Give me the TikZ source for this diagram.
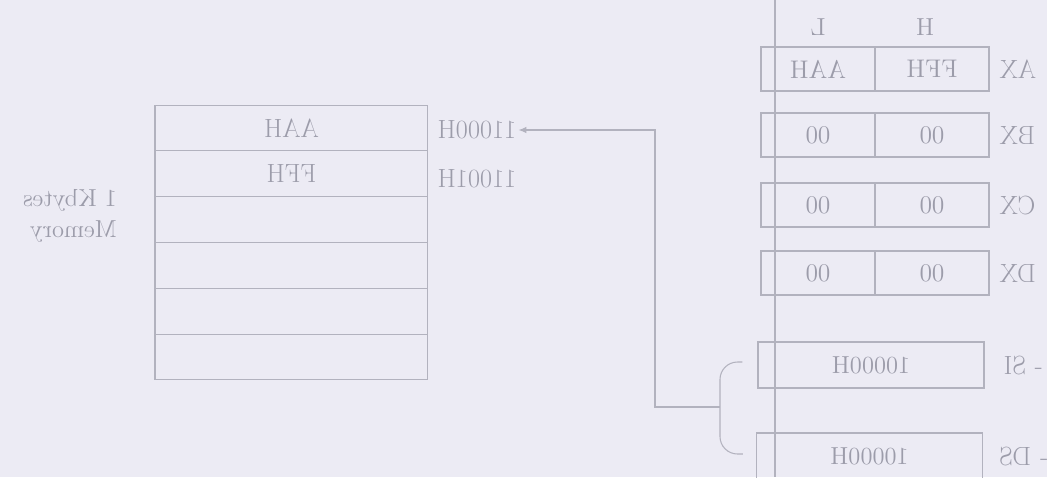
\documentclass[tikz,border=0pt]{standalone}
\usetikzlibrary{calc, arrows.meta}
\definecolor{paper}{RGB}{236,235,244}
\definecolor{ink}{RGB}{178,178,190}
\definecolor{txt}{RGB}{156,156,170}
\tikzset{
    cell/.style={draw=ink, line width=0.6pt, text=txt, inner sep=0pt},
    memcell/.style={cell, minimum width=5.46cm, minimum height=0.916cm, font=\fontsize{15}{18}\selectfont},
    regcell/.style={cell, minimum width=2.28cm, minimum height=0.88cm, font=\fontsize{14.5}{17}\selectfont},
    ptrbox/.style={cell, minimum width=4.52cm, minimum height=0.92cm, font=\fontsize{14}{17}\selectfont},
    tag/.style={text=txt, inner sep=1pt, font=\fontsize{15}{18}\selectfont},
    small tag/.style={text=txt, inner sep=1pt, font=\fontsize{14}{18}\selectfont},
    ptr/.style={draw=ink, line width=0.6pt},
    % the scan is mirrored: draw the page as it is and flip it, text included
    common settings/.style={x=0.02cm, y=-0.02cm, xscale=-1, every node/.append style={transform shape}}
}

\begin{document}
\begin{tikzpicture}[common settings]

    % Page
    \fill[paper] (0,0) rectangle (1047,477);
    \useasboundingbox (0,0) rectangle (1047,477);

    % Fold of the page
    \draw[ptr] (272,0) -- (272,477);

    % Register file
    \node[small tag] (colH) at (122,27) {H};
    \node[small tag] (colL) at (229,27) {L};
    \foreach \r/\y/\hv/\lv in {AX/47/FFH/AAH, BX/113/00/00, CX/183/00/00, DX/251/00/00}{
        \node[regcell] (h\r) at (115,\y+22) {\hv};
        \node[regcell] (l\r) at (229,\y+22) {\lv};
        \node[tag, anchor=east] (\r) at ($(h\r.west)+(-8,0)$) {\r};
    }

    % Pointer registers
    \node[ptrbox] (SI) at (176,365) {10000H};
    \node[ptrbox] (DS) at (177.5,456) {10000H};
    \node[tag, anchor=east] (tSI) at ($(SI.west)+(-17,0)$) {- SI};
    \node[tag, anchor=east] (tDS) at ($(DS.west)+(-14,0)$) {- DS};

    % Memory
    \foreach \t [count=\i from 0] in {AAH,FFH,{},{},{},{}}{
        \node[memcell] (m\i) at (755.5,128+45.8*\i) {\t};
    }
    \node[tag, anchor=east] (a0) at ($(m0.west)+(-7,2)$) {11000H};
    \node[tag, anchor=east] (a1) at ($(m1.west)+(-7,5)$) {11001H};
    \node[small tag, anchor=west, align=left] (kb) at (928,216) {1 Kbytes\\Memory};

    % SI:DS pair points at the first byte
    \coordinate (brTop) at ($(SI.east)+(15,-3)$);
    \coordinate (brBot) at ($(DS.east)+(13,-2)$);
    \coordinate (jn) at (327,407);
    \coordinate (bend) at (392,407);
    \draw[ptr, rounded corners=0.35cm] (brTop) -| (jn) |- (brBot);
    \draw[ptr, -{Latex[length=1.6mm, width=1.3mm]}] (jn) -- (bend) |- (a0.west);

\end{tikzpicture}
\end{document}
